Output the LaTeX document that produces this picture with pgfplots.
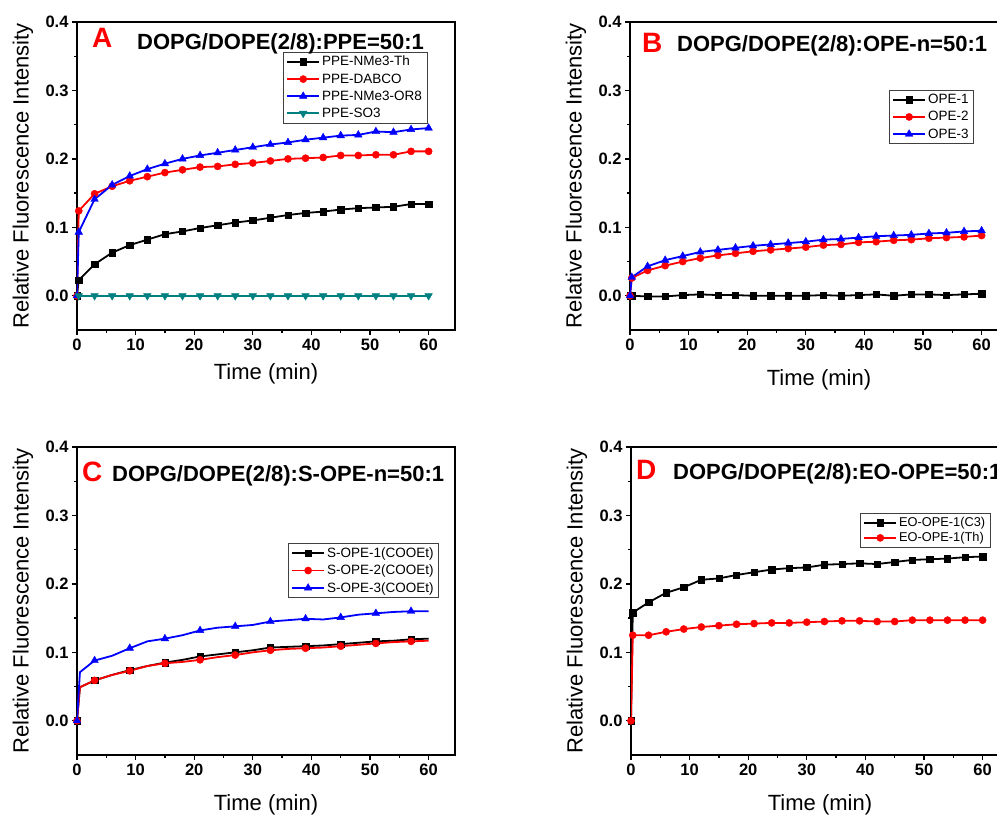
\documentclass[border=0pt]{standalone}
\usepackage{fontspec}
\setmainfont{Liberation Sans}
\usepackage{pgfplots}
\pgfplotsset{compat=1.18}
\definecolor{tealc}{RGB}{0,128,128}
\pgfplotsset{
 panel/.style={
  scale only axis, width=378pt, height=308pt, anchor=south west,
  xmin=0, xmax=64.5, ymin=-0.05, ymax=0.4,
  xtick={0,10,20,30,40,50,60}, ytick={0,0.1,0.2,0.3,0.4},
  minor x tick num=1, minor y tick num=1,
  tick align=outside, xtick pos=left, ytick pos=left,
  major tick length=5pt, minor tick length=3pt,
  every tick/.style={line width=1.3pt, black},
  axis line style={line width=1.7pt},
  ticklabel style={font=\fontsize{16.5}{18}\selectfont\bfseries},
  /pgf/number format/assume math mode=true,
  yticklabel style={/pgf/number format/.cd, fixed, fixed zerofill, precision=1},
  xticklabel style={/pgf/number format/.cd, fixed, precision=0},
  xlabel={Time (min)}, ylabel={Relative Fluorescence Intensity},
  label style={font=\fontsize{22}{26}\selectfont},
  ylabel style={at={(axis description cs:-0.143,0.5)}, anchor=center},
  xlabel style={at={(axis description cs:0.5,-0.162)}, anchor=center},
  legend style={font=\fontsize{13.5}{15}\selectfont, draw=darkgray, line width=0.6pt, anchor=north west, row sep=2.2pt},
  legend cell align=left,
  legend image code/.code={\draw[##1, mark repeat=2, mark phase=2] plot coordinates {(0pt,0pt) (16pt,0pt) (32pt,0pt)};},
 },
 s1/.style={black, line width=1.8pt, mark=square*, mark size=3.2pt, mark options={solid, line width=0.4pt}},
 s2/.style={red, line width=1.8pt, mark=*, mark size=3.6pt, mark options={solid, line width=0.4pt}},
 s3/.style={blue, line width=1.8pt, mark=triangle*, mark size=4.4pt, mark options={solid, line width=0.4pt}},
 s4/.style={tealc, line width=1.8pt, mark=triangle*, mark size=4.4pt, mark options={solid, rotate=180, line width=0.4pt}},
}
\newcommand{\ttl}{\fontsize{22}{26}\selectfont\bfseries}
\newcommand{\ltr}{\fontsize{28}{32}\selectfont\bfseries\color{red}}
\begin{document}
\begin{tikzpicture}[x=1pt,y=1pt]
\path[use as bounding box] (0,0) rectangle (997,817);
\clip (0,0) rectangle (997,817);

% ---------------- A ----------------
\begin{axis}[panel, at={(77pt,487pt)}, legend style={at={(axis description cs:0.545,0.903)}},
  xlabel style={at={(axis description cs:0.5,-0.142)}}]
\addplot[s1] coordinates {(0,0) (0.3,0.023) (3,0.046) (6,0.063) (9,0.074) (12,0.082) (15,0.090) (18,0.094) (21,0.099) (24,0.103) (27,0.107) (30,0.110) (33,0.114) (36,0.118) (39,0.121) (42,0.123) (45,0.126) (48,0.128) (51,0.129) (54,0.130) (57,0.134) (60,0.134)};
\addplot[s2] coordinates {(0,0) (0.3,0.124) (3,0.149) (6,0.160) (9,0.168) (12,0.174) (15,0.180) (18,0.184) (21,0.188) (24,0.189) (27,0.192) (30,0.194) (33,0.197) (36,0.200) (39,0.201) (42,0.202) (45,0.205) (48,0.205) (51,0.206) (54,0.206) (57,0.211) (60,0.211)};
\addplot[s3] coordinates {(0,0) (0.3,0.093) (3,0.141) (6,0.162) (9,0.175) (12,0.185) (15,0.193) (18,0.200) (21,0.205) (24,0.209) (27,0.213) (30,0.217) (33,0.221) (36,0.224) (39,0.228) (42,0.231) (45,0.234) (48,0.235) (51,0.240) (54,0.239) (57,0.243) (60,0.245)};
\addplot[s4] coordinates {(0.3,0) (3,0) (6,0) (9,0) (12,0) (15,0) (18,0) (21,0) (24,0) (27,0) (30,0) (33,0) (36,0) (39,0) (42,0) (45,0) (48,0) (51,0) (54,0) (57,0) (60,0)};
\legend{PPE-NMe3-Th, PPE-DABCO, PPE-NMe3-OR8, PPE-SO3}
\end{axis}

% ---------------- B ----------------
\begin{axis}[panel, at={(630pt,487pt)}, legend style={at={(axis description cs:0.685,0.779)}}]
\addplot[s1] coordinates {(0,0) (0.3,0) (3,-0.001) (6,-0.001) (9,0.001) (12,0.002) (15,0.001) (18,0.001) (21,0) (24,0) (27,0) (30,0) (33,0.001) (36,0) (39,0.001) (42,0.002) (45,0) (48,0.002) (51,0.002) (54,0.001) (57,0.002) (60,0.003)};
\addplot[s2] coordinates {(0,0) (0.3,0.026) (3,0.037) (6,0.044) (9,0.050) (12,0.055) (15,0.059) (18,0.062) (21,0.065) (24,0.067) (27,0.069) (30,0.071) (33,0.074) (36,0.075) (39,0.078) (42,0.079) (45,0.081) (48,0.082) (51,0.084) (54,0.085) (57,0.086) (60,0.088)};
\addplot[s3] coordinates {(0,0) (0.3,0.027) (3,0.043) (6,0.052) (9,0.058) (12,0.064) (15,0.067) (18,0.070) (21,0.073) (24,0.075) (27,0.077) (30,0.079) (33,0.082) (36,0.083) (39,0.085) (42,0.087) (45,0.088) (48,0.089) (51,0.091) (54,0.092) (57,0.094) (60,0.095)};
\legend{OPE-1, OPE-2, OPE-3}
\end{axis}

% ---------------- C ----------------
\begin{axis}[panel, at={(77pt,62pt)}, legend style={at={(axis description cs:0.558,0.688)}}]
\addplot[s1, mark repeat=2, mark phase=1] coordinates {(0,0) (0.5,0.049) (3,0.059) (6,0.067) (9,0.074) (12,0.080) (15,0.085) (18,0.089) (21,0.094) (24,0.097) (27,0.100) (30,0.103) (33,0.107) (36,0.108) (39,0.109) (42,0.110) (45,0.112) (48,0.114) (51,0.116) (54,0.117) (57,0.119) (60,0.120)};
\addplot[s2, mark repeat=2, mark phase=1] coordinates {(0,0) (0.5,0.049) (3,0.059) (6,0.067) (9,0.073) (12,0.080) (15,0.084) (18,0.086) (21,0.089) (24,0.093) (27,0.096) (30,0.100) (33,0.103) (36,0.105) (39,0.106) (42,0.107) (45,0.109) (48,0.111) (51,0.113) (54,0.115) (57,0.116) (60,0.117)};
\addplot[s3, mark repeat=2, mark phase=1] coordinates {(0,0) (0.5,0.071) (3,0.088) (6,0.095) (9,0.106) (12,0.116) (15,0.120) (18,0.125) (21,0.132) (24,0.136) (27,0.138) (30,0.140) (33,0.145) (36,0.147) (39,0.149) (42,0.148) (45,0.151) (48,0.155) (51,0.157) (54,0.159) (57,0.160) (60,0.160)};
\legend{S-OPE-1(COOEt), S-OPE-2(COOEt), S-OPE-3(COOEt)}
\end{axis}

% ---------------- D ----------------
\begin{axis}[panel, at={(631pt,62pt)}, legend style={at={(axis description cs:0.606,0.786)}, font=\fontsize{12.8}{14}\selectfont, row sep=0.5pt}]
\addplot[s1] coordinates {(0,0) (0.3,0.158) (3,0.173) (6,0.187) (9,0.195) (12,0.206) (15,0.208) (18,0.213) (21,0.217) (24,0.221) (27,0.223) (30,0.224) (33,0.228) (36,0.229) (39,0.230) (42,0.229) (45,0.232) (48,0.235) (51,0.236) (54,0.237) (57,0.239) (60,0.240)};
\addplot[s2] coordinates {(0,0) (0.3,0.125) (3,0.125) (6,0.130) (9,0.134) (12,0.137) (15,0.139) (18,0.141) (21,0.142) (24,0.143) (27,0.143) (30,0.144) (33,0.145) (36,0.146) (39,0.146) (42,0.145) (45,0.145) (48,0.147) (51,0.147) (54,0.147) (57,0.147) (60,0.147)};
\legend{EO-OPE-1(C3), EO-OPE-1(Th)}
\end{axis}

% titles
\node[anchor=base west, inner sep=0pt] at (92,769) {\ltr A};
\node[anchor=base west, inner sep=0pt] at (137,767.5) {\ttl DOPG/DOPE(2/8):PPE=50:1};
\node[anchor=base west, inner sep=0pt] at (642,764) {\ltr B};
\node[anchor=base west, inner sep=0pt] at (677,765) {\ttl DOPG/DOPE(2/8):OPE-n=50:1};
\node[anchor=base west, inner sep=0pt] at (82,335) {\ltr C};
\node[anchor=base west, inner sep=0pt] at (112,335) {\ttl DOPG/DOPE(2/8):S-OPE-n=50:1};
\node[anchor=base west, inner sep=0pt] at (636,337) {\ltr D};
\node[anchor=base west, inner sep=0pt] at (673,337) {\ttl DOPG/DOPE(2/8):EO-OPE=50:1};
\end{tikzpicture}
\end{document}
